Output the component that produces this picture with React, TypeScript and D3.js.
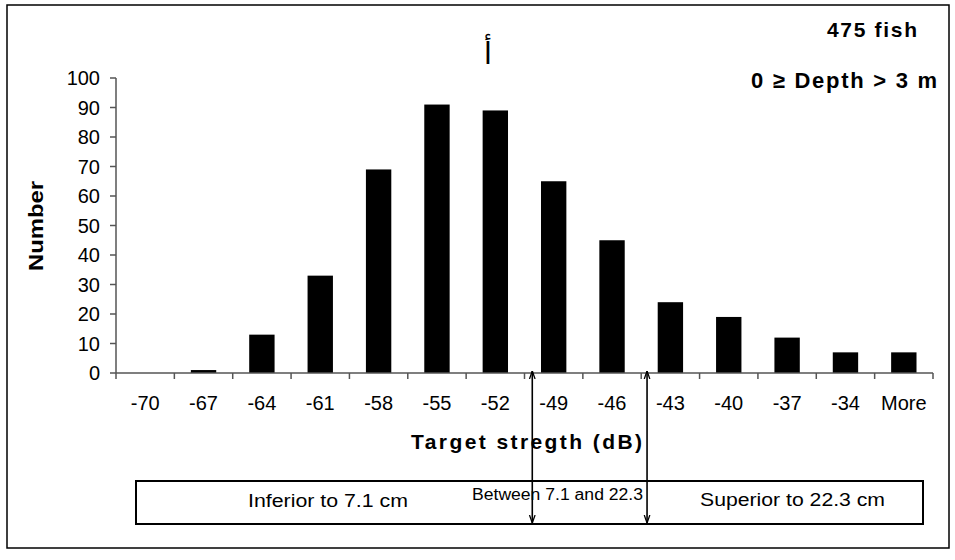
import React from "react";
import * as d3 from "d3";

// Target strength histogram (fish counts per 3 dB class)
const categories = ["-70", "-67", "-64", "-61", "-58", "-55", "-52", "-49", "-46", "-43", "-40", "-37", "-34", "More"];
const counts = [0, 1, 13, 33, 69, 91, 89, 65, 45, 24, 19, 12, 7, 7];
const yTicks = [0, 10, 20, 30, 40, 50, 60, 70, 80, 90, 100];

// Size classes shown under the axis, separated by TS thresholds (dB)
const sizeClasses = ["Inferior to 7.1 cm", "Between 7.1 and 22.3", "Superior to 22.3 cm"];
const thresholdsDb = [-50.1, -44.2];

const headerLines = ["475 fish", "0 \u2265 Depth > 3 m"];
const panelLetter = "\u0623";

const W = 955;
const H = 560;
const plot = { left: 116, right: 933, top: 78, bottom: 373 };
const FONT = "'Liberation Sans', Arial, Helvetica, sans-serif";

export default function App() {
  const x = d3.scaleBand<string>().domain(categories).range([plot.left, plot.right]).padding(0);
  const step = x.step();
  const barW = step / 2.3;
  const y = d3.scaleLinear().domain([0, 100]).range([plot.bottom, plot.top]);

  // dB position along the axis, anchored at the numeric class centres
  const xDb = d3
    .scaleLinear()
    .domain([-70, -34])
    .range([(x("-70") as number) + step / 2, (x("-34") as number) + step / 2]);

  const box = { x0: 136, x1: 923, y0: 481, y1: 524 };
  const axisColor = "#555";

  return (
    <svg
      width={W}
      height={H}
      style={{ position: "absolute", left: 0, top: 0, display: "block", background: "#fff" }}
      fontFamily={FONT}
    >
      <defs>
        <marker id="ah" viewBox="0 0 10 10" refX="10" refY="5" markerWidth="8" markerHeight="8" orient="auto-start-reverse" markerUnits="userSpaceOnUse">
          <path d="M0,1.5 L10,5 L0,8.5" fill="none" stroke="#000" strokeWidth={1.6} />
        </marker>
      </defs>

      {/* outer frame */}
      <rect x={7} y={5} width={942} height={543} fill="#fff" stroke="#000" strokeWidth={1.5} />

      {/* bars */}
      {categories.map((c, i) => {
        const v = counts[i];
        if (v <= 0) return null;
        return (
          <rect
            key={c}
            x={(x(c) as number) + (step - barW) / 2}
            y={y(v)}
            width={barW}
            height={y(0) - y(v)}
            fill="#000"
          />
        );
      })}

      {/* y axis */}
      <line x1={plot.left} x2={plot.left} y1={y(100)} y2={y(0)} stroke={axisColor} strokeWidth={1.5} />
      {yTicks.map((t) => (
        <g key={t}>
          <line x1={plot.left - 6} x2={plot.left} y1={y(t)} y2={y(t)} stroke={axisColor} strokeWidth={1.5} />
          <text x={100} y={y(t) + 7} textAnchor="end" fontSize={20}>
            {t}
          </text>
        </g>
      ))}

      {/* x axis */}
      <line x1={plot.left} x2={plot.right} y1={y(0)} y2={y(0)} stroke={axisColor} strokeWidth={1.5} />
      {[...categories.map((c) => x(c) as number), plot.right].map((px, i) => (
        <line key={i} x1={px} x2={px} y1={y(0)} y2={y(0) + 6} stroke={axisColor} strokeWidth={1.5} />
      ))}
      {categories.map((c) => (
        <text key={c} x={(x(c) as number) + step / 2} y={410} textAnchor="middle" fontSize={20}>
          {c}
        </text>
      ))}

      {/* axis titles */}
      <text
        transform={`translate(43,226) rotate(-90)`}
        textAnchor="middle"
        fontSize={21}
        fontWeight="bold"
        textLength={90}
        lengthAdjust="spacingAndGlyphs"
      >
        Number
      </text>
      <text x={411} y={449} fontSize={21} fontWeight="bold" textLength={231} lengthAdjust="spacing">
        Target stregth (dB)
      </text>

      {/* header */}
      <text x={827} y={37} fontSize={21} fontWeight="bold" textLength={90} lengthAdjust="spacing">
        {headerLines[0]}
      </text>
      <text x={751} y={88} fontSize={22} fontWeight="bold" textLength={186} lengthAdjust="spacing">
        {headerLines[1]}
      </text>
      <text x={488} y={64} textAnchor="middle" fontSize={30} fontFamily="'DejaVu Sans', sans-serif">
        {panelLetter}
      </text>

      {/* size class box */}
      <rect x={box.x0} y={box.y0} width={box.x1 - box.x0} height={box.y1 - box.y0} fill="none" stroke="#000" strokeWidth={2} />
      <text x={248} y={507} fontSize={18} textLength={160} lengthAdjust="spacingAndGlyphs">
        {sizeClasses[0]}
      </text>
      <text x={472} y={500} fontSize={16} textLength={171} lengthAdjust="spacingAndGlyphs">
        {sizeClasses[1]}
      </text>
      <text x={700} y={506} fontSize={18} textLength={185} lengthAdjust="spacingAndGlyphs">
        {sizeClasses[2]}
      </text>

      {/* threshold arrows */}
      {thresholdsDb.map((db) => {
        const px = xDb(db);
        return (
          <line
            key={db}
            x1={px}
            x2={px}
            y1={y(0) - 2}
            y2={box.y1 - 1}
            stroke="#000"
            strokeWidth={1.6}
            markerStart="url(#ah)"
            markerEnd="url(#ah)"
          />
        );
      })}
    </svg>
  );
}
